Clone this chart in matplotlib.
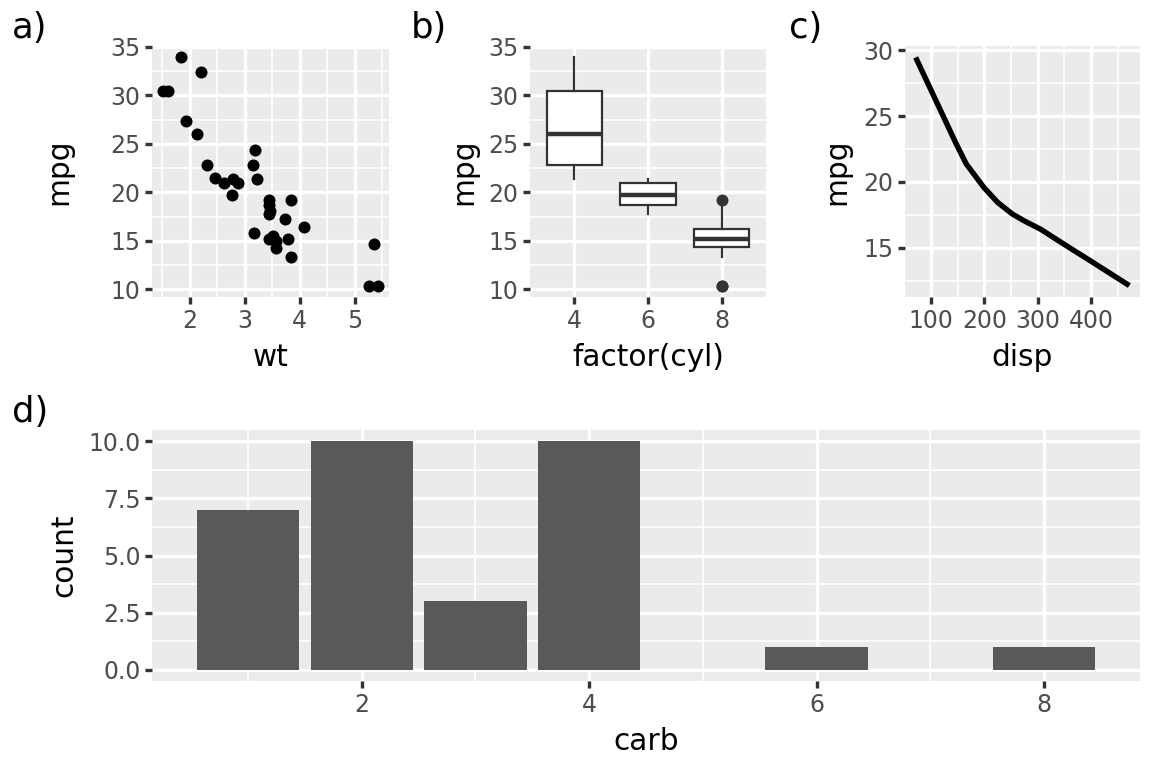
import numpy as np
import matplotlib.pyplot as plt
from matplotlib.ticker import FixedLocator, FormatStrFormatter

W, H = 1152, 768

# mtcars columns
mpg = [21.0, 21.0, 22.8, 21.4, 18.7, 18.1, 14.3, 24.4, 22.8, 19.2, 17.8, 16.4, 17.3, 15.2,
       10.4, 10.4, 14.7, 32.4, 30.4, 33.9, 21.5, 15.5, 15.2, 13.3, 19.2, 27.3, 26.0, 30.4,
       15.8, 19.7, 15.0, 21.4]
cyl = [6, 6, 4, 6, 8, 6, 8, 4, 4, 6, 6, 8, 8, 8, 8, 8, 8, 4, 4, 4, 4, 8, 8, 8, 8, 4, 4, 4,
       8, 6, 8, 4]
wt = [2.620, 2.875, 2.320, 3.215, 3.440, 3.460, 3.570, 3.190, 3.150, 3.440, 3.440, 4.070,
      3.730, 3.780, 5.250, 5.424, 5.345, 2.200, 1.615, 1.835, 2.465, 3.520, 3.435, 3.840,
      3.845, 1.935, 2.140, 1.513, 3.170, 2.770, 3.570, 2.780]
carb = [4, 4, 1, 1, 2, 1, 4, 2, 2, 4, 4, 3, 3, 3, 4, 4, 4, 1, 2, 1, 1, 2, 2, 4, 2, 1, 2, 2,
        4, 6, 8, 2]

# loess smooth of mpg ~ disp
smooth_disp = [71.1, 100, 125, 147, 166, 199, 225, 253, 275, 306, 350, 400, 472]
smooth_mpg = [29.44, 26.95, 24.8, 22.9, 21.37, 19.59, 18.45, 17.56, 17.05, 16.41, 15.27,
              14.0, 12.15]

cyl_levels = [4, 6, 8]

BG = '#EBEBEB'
TICK_COL = '#333333'
LAB_COL = '#4D4D4D'
TICK_SIZE = 17
TITLE_SIZE = 21.3
TAG_SIZE = 25.5

fig = plt.figure(figsize=(W / 100, H / 100), dpi=100)


def px(x, y):
    return x / W, 1 - y / H


def add_panel(x0, y0, x1, y1):
    return fig.add_axes([x0 / W, 1 - y1 / H, (x1 - x0) / W, (y1 - y0) / H])


def expand(lo, hi, mult=0.05):
    span = hi - lo
    return lo - mult * span, hi + mult * span


def style(ax, xmajor, ymajor, xminor=None, yminor=None):
    ax.set_facecolor(BG)
    for s in ax.spines.values():
        s.set_visible(False)
    ax.xaxis.set_major_locator(FixedLocator(xmajor))
    ax.yaxis.set_major_locator(FixedLocator(ymajor))
    if xminor is not None:
        ax.xaxis.set_minor_locator(FixedLocator(xminor))
    if yminor is not None:
        ax.yaxis.set_minor_locator(FixedLocator(yminor))
    ax.set_axisbelow(True)
    ax.grid(which='major', color='white', lw=2.4)
    ax.grid(which='minor', color='white', lw=1.2)
    ax.tick_params(which='major', length=4.8, width=2.4, color=TICK_COL,
                   labelcolor=LAB_COL, labelsize=TICK_SIZE, pad=3.5)
    ax.tick_params(which='minor', length=0)


def labels(ax, xlab, ylab, xc, xbase, ybase, yc):
    ax.set_xlabel(xlab, fontsize=TITLE_SIZE, va='baseline', ha='center')
    ax.set_ylabel(ylab, fontsize=TITLE_SIZE, va='baseline', ha='center')
    ax.xaxis.set_label_coords(*px(xc, xbase), transform=fig.transFigure)
    ax.yaxis.set_label_coords(*px(ybase, yc), transform=fig.transFigure)


# a) scatter
ax1 = add_panel(152, 46, 389, 297)
ax1.scatter(wt, mpg, s=75, color='black', linewidths=0, zorder=3)
ax1.set_xlim(*expand(min(wt), max(wt)))
ax1.set_ylim(*expand(min(mpg), max(mpg)))
style(ax1, [2, 3, 4, 5], [10, 15, 20, 25, 30, 35],
      [1.5, 2.5, 3.5, 4.5, 5.5], [12.5, 17.5, 22.5, 27.5, 32.5])
labels(ax1, 'wt', 'mpg', 270.5, 366, 67, 171.5)

# b) boxplot
ax2 = add_panel(530, 46, 766, 297)
groups = [[m for m, c in zip(mpg, cyl) if c == lv] for lv in cyl_levels]
ax2.boxplot(groups, positions=[1, 2, 3], widths=0.75, whis=1.5, showcaps=False,
            patch_artist=True,
            boxprops=dict(facecolor='white', edgecolor=TICK_COL, lw=1.6),
            whiskerprops=dict(color=TICK_COL, lw=1.6),
            medianprops=dict(color=TICK_COL, lw=3.2),
            flierprops=dict(marker='o', markersize=8.6, markerfacecolor=TICK_COL,
                            markeredgecolor=TICK_COL, markeredgewidth=0))
ax2.set_xlim(0.4, 3.6)
ax2.set_ylim(*expand(min(mpg), max(mpg)))
style(ax2, [1, 2, 3], [10, 15, 20, 25, 30, 35], None, [12.5, 17.5, 22.5, 27.5, 32.5])
ax2.set_xticklabels([str(c) for c in cyl_levels])
labels(ax2, 'factor(cyl)', 'mpg', 648, 366, 472, 171.5)

# c) smooth line
ax3 = add_panel(905, 46, 1140, 297)
ax3.plot(smooth_disp, smooth_mpg, color='black', lw=3.9, solid_capstyle='butt', zorder=3)
ax3.set_xlim(*expand(min(smooth_disp), max(smooth_disp)))
ax3.set_ylim(*expand(min(smooth_mpg), max(smooth_mpg)))
style(ax3, [100, 200, 300, 400], [15, 20, 25, 30],
      [50, 150, 250, 350, 450], [12.5, 17.5, 22.5, 27.5])
labels(ax3, 'disp', 'mpg', 1022.5, 366, 845.5, 171.5)

# d) bar counts
ax4 = add_panel(152, 430, 1140, 681)
vals, counts = np.unique(carb, return_counts=True)
ax4.bar(vals, counts, width=0.9, color='#595959', zorder=3)
ax4.set_xlim(*expand(min(vals) - 0.45, max(vals) + 0.45))
ax4.set_ylim(*expand(0, max(counts)))
style(ax4, [2, 4, 6, 8], [0, 2.5, 5, 7.5, 10], [1, 3, 5, 7], [1.25, 3.75, 6.25, 8.75])
ax4.yaxis.set_major_formatter(FormatStrFormatter('%.1f'))
labels(ax4, 'carb', 'count', 646, 750, 72, 555.5)

# tags
for tag, x, y in [('a)', 12, 38), ('b)', 411, 38), ('c)', 789, 38), ('d)', 12, 422)]:
    fig.text(*px(x, y), tag, fontsize=TAG_SIZE, ha='left', va='baseline')

fig.savefig('out.png', dpi=100, facecolor='white')
